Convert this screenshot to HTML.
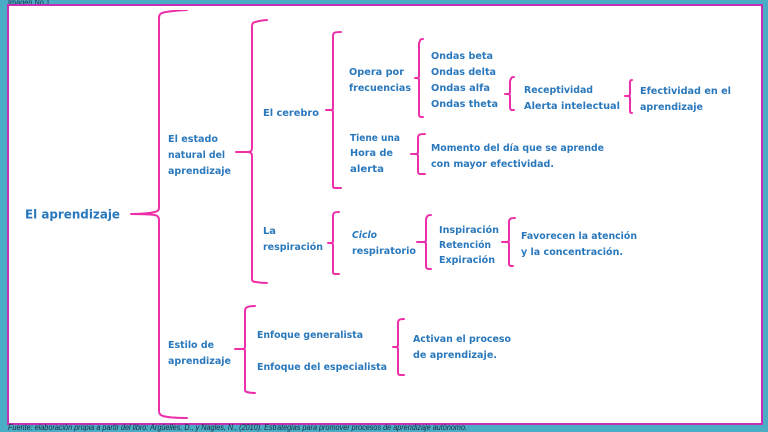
<!DOCTYPE html>
<html><head><meta charset="utf-8"><style>
html,body{margin:0;padding:0;width:768px;height:432px;overflow:hidden;background:#4bacc6}
svg{display:block}
.b{fill:none;stroke:#ec2fa8;stroke-width:2;stroke-linecap:round;stroke-linejoin:round}
.t{font-family:"DejaVu Sans",sans-serif;font-weight:bold;font-size:10px;fill:#2a78bc}
.s{font-family:"Liberation Sans",sans-serif;font-size:8px;fill:#1a2a40}
</style></head><body>
<svg width="768" height="432" viewBox="0 0 768 432">
<defs><filter id="f" x="0" y="0" width="100%" height="100%"><feGaussianBlur stdDeviation="0.3"/></filter></defs>
<rect width="768" height="432" fill="#4bacc6"/>
<text class="s" x="8" y="5" textLength="42" lengthAdjust="spacingAndGlyphs">Imagen No 1</text>
<rect x="8" y="5" width="754" height="419" fill="#fff" stroke="#c42fb4" stroke-width="2"/>
<g filter="url(#f)">
<text class="s" x="8" y="430" textLength="459" lengthAdjust="spacingAndGlyphs" font-style="italic">Fuente: elaboración propia a partir del libro: Argüelles, D., y Nagles, N., (2010). Estrategias para promover procesos de aprendizaje autónomo.</text>

<path class="b" d="M187 10Q168 11 162 13Q159 14 159 18V208Q159 211 155 212Q146 214 131 214Q146 214 155 215Q159 216 159 220V411Q159 415 163 416Q170 418 187 418"/>
<path class="b" d="M267 20Q256 21 253 23Q252 24 252 27V148Q252 152 248 152H236H248Q252 152 252 156V279Q252 282 256 282Q261 283 267 283"/>
<path class="b" d="M341 32Q335 32 334 33Q333 34 333 36V108Q333 110 331 110H326H331Q333 110 333 112V186Q333 188 335 188H341"/>
<path class="b" d="M339 212Q335 212 334 213Q333 214 333 216V241Q333 243 331 243H328H331Q333 243 333 245V272Q333 274 335 274H339"/>
<path class="b" d="M255 306Q248 306 246 308Q245 309 245 312V347Q245 349 243 349H235H243Q245 349 245 351V389Q245 392 247 392Q250 393 255 393"/>
<path class="b" d="M423 39Q420 39 420 41Q419 42 419 44V76Q419 78 417 78H415H417Q419 78 419 80V114Q419 117 421 117H423"/>
<path class="b" d="M425 134Q420 134 419 135Q418 136 418 138V152Q418 154 416 154H411H416Q418 154 418 156V171Q418 174 420 174H425"/>
<path class="b" d="M514 77Q511 77 511 79Q510 80 510 82V92Q510 94 508 94H505H508Q510 94 510 96V107Q510 110 512 110H514"/>
<path class="b" d="M632 80Q630 80 630 82V94Q630 96 628 96H625H628Q630 96 630 98V111Q630 113 632 113"/>
<path class="b" d="M431 215Q427 215 427 217Q426 218 426 220V240Q426 242 424 242H417H424Q426 242 426 244V266Q426 269 429 269H431"/>
<path class="b" d="M515 218Q511 218 510 219Q509 220 509 222V240Q509 242 507 242H502H507Q509 242 509 244V263Q509 266 511 266H513"/>
<path class="b" d="M404 319Q400 319 399 320Q398 321 398 323V345Q398 347 396 347H393H396Q398 347 398 349V372Q398 375 400 375H404"/>

<text class="t" x="25" y="218.5" style="font-size:12.5px" textLength="95" lengthAdjust="spacingAndGlyphs">El aprendizaje</text>
<text class="t" x="168" y="142" textLength="50" lengthAdjust="spacingAndGlyphs">El estado</text>
<text class="t" x="168" y="158" textLength="57" lengthAdjust="spacingAndGlyphs">natural del</text>
<text class="t" x="168" y="174" textLength="63" lengthAdjust="spacingAndGlyphs">aprendizaje</text>
<text class="t" x="263" y="116" textLength="56" lengthAdjust="spacingAndGlyphs">El cerebro</text>
<text class="t" x="263" y="234" textLength="13" lengthAdjust="spacingAndGlyphs">La</text>
<text class="t" x="263" y="250" textLength="60" lengthAdjust="spacingAndGlyphs">respiración</text>
<text class="t" x="349" y="75" textLength="55" lengthAdjust="spacingAndGlyphs">Opera por</text>
<text class="t" x="349" y="91" textLength="62" lengthAdjust="spacingAndGlyphs">frecuencias</text>
<text class="t" x="350" y="141" textLength="50" lengthAdjust="spacingAndGlyphs">Tiene una</text>
<text class="t" x="350" y="156" textLength="43" lengthAdjust="spacingAndGlyphs">Hora de</text>
<text class="t" x="350" y="172" textLength="34" lengthAdjust="spacingAndGlyphs">alerta</text>
<text class="t" x="352" y="238" textLength="25" lengthAdjust="spacingAndGlyphs" font-style="italic">Ciclo</text>
<text class="t" x="352" y="254" textLength="64" lengthAdjust="spacingAndGlyphs">respiratorio</text>
<text class="t" x="431" y="59" textLength="62" lengthAdjust="spacingAndGlyphs">Ondas beta</text>
<text class="t" x="431" y="75" textLength="65" lengthAdjust="spacingAndGlyphs">Ondas delta</text>
<text class="t" x="431" y="91" textLength="59" lengthAdjust="spacingAndGlyphs">Ondas alfa</text>
<text class="t" x="431" y="107" textLength="67" lengthAdjust="spacingAndGlyphs">Ondas theta</text>
<text class="t" x="524" y="93" textLength="69" lengthAdjust="spacingAndGlyphs">Receptividad</text>
<text class="t" x="524" y="109" textLength="96" lengthAdjust="spacingAndGlyphs">Alerta intelectual</text>
<text class="t" x="640" y="94" textLength="91" lengthAdjust="spacingAndGlyphs">Efectividad en el</text>
<text class="t" x="640" y="110" textLength="63" lengthAdjust="spacingAndGlyphs">aprendizaje</text>
<text class="t" x="431" y="151" textLength="173" lengthAdjust="spacingAndGlyphs">Momento del día que se aprende</text>
<text class="t" x="431" y="167" textLength="123" lengthAdjust="spacingAndGlyphs">con mayor efectividad.</text>
<text class="t" x="439" y="233" textLength="60" lengthAdjust="spacingAndGlyphs">Inspiración</text>
<text class="t" x="439" y="248" textLength="52" lengthAdjust="spacingAndGlyphs">Retención</text>
<text class="t" x="439" y="263" textLength="56" lengthAdjust="spacingAndGlyphs">Expiración</text>
<text class="t" x="521" y="239" textLength="116" lengthAdjust="spacingAndGlyphs">Favorecen la atención</text>
<text class="t" x="521" y="255" textLength="102" lengthAdjust="spacingAndGlyphs">y la concentración.</text>
<text class="t" x="168" y="348" textLength="46" lengthAdjust="spacingAndGlyphs">Estilo de</text>
<text class="t" x="168" y="364" textLength="63" lengthAdjust="spacingAndGlyphs">aprendizaje</text>
<text class="t" x="257" y="338" textLength="106" lengthAdjust="spacingAndGlyphs">Enfoque generalista</text>
<text class="t" x="257" y="370" textLength="130" lengthAdjust="spacingAndGlyphs">Enfoque del especialista</text>
<text class="t" x="413" y="342" textLength="98" lengthAdjust="spacingAndGlyphs">Activan el proceso</text>
<text class="t" x="413" y="358" textLength="84" lengthAdjust="spacingAndGlyphs">de aprendizaje.</text>
</g>
</svg>
</body></html>
